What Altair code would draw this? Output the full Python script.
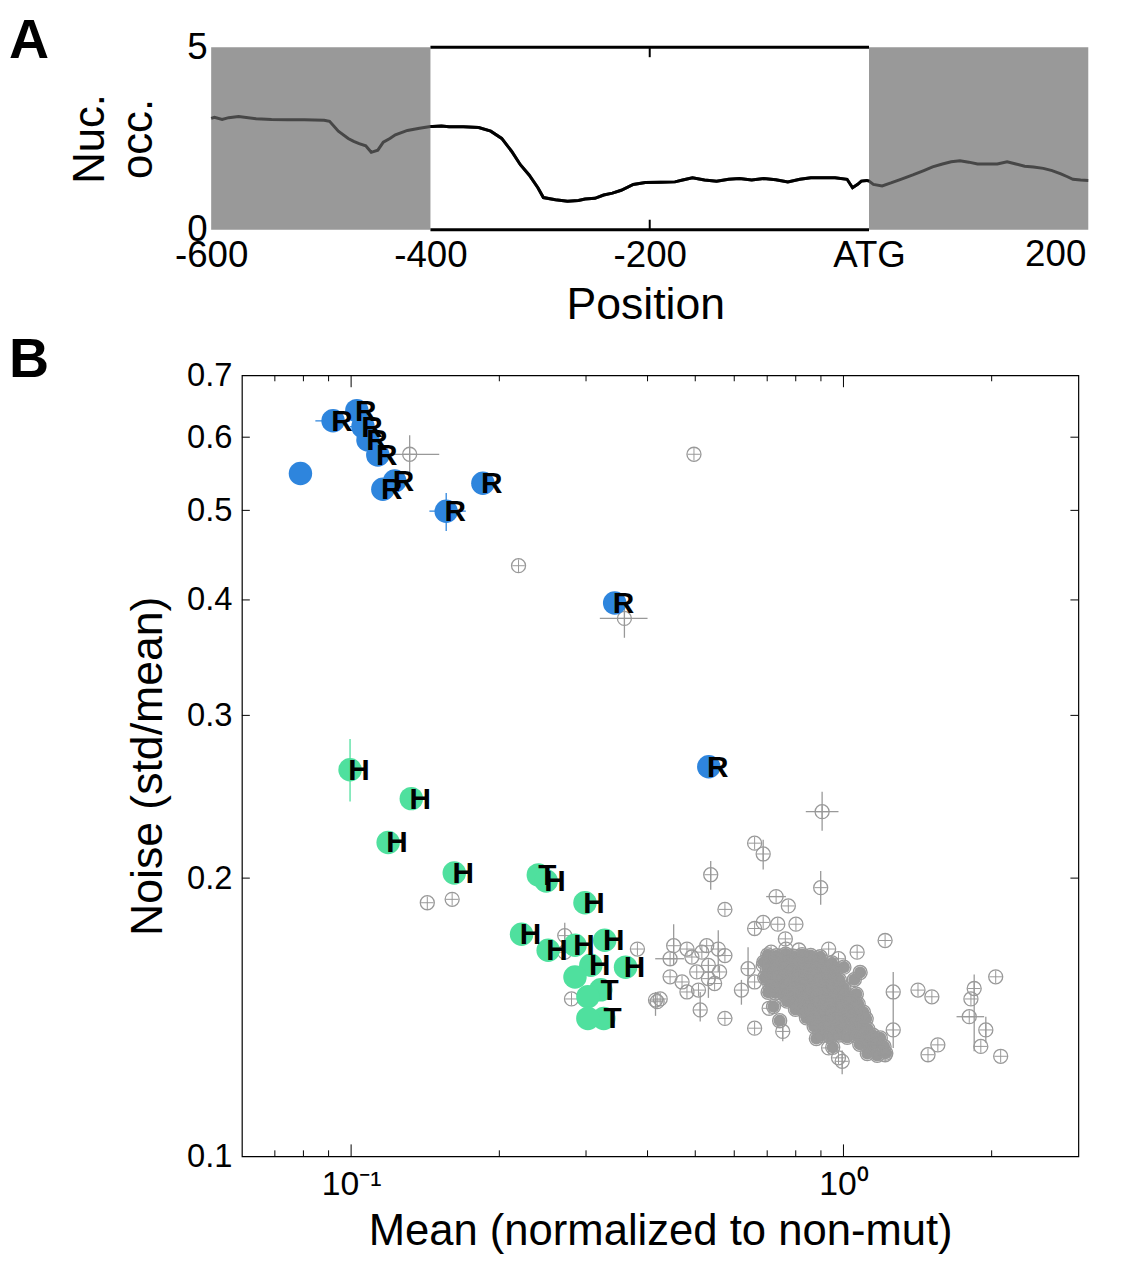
import altair as alt
import pandas as pd

FONT = "Liberation Sans"

# ---------------- Panel A data ----------------
posA = [-600, -597, -590, -584, -575, -559, -545, -530, -515, -497, -492, -484, -475, -470, -465,
        -459, -454, -448, -443, -437, -432, -421, -410, -400, -398, -390, -383, -370, -356, -345,
        -335, -326, -318, -310, -302, -297, -286, -275, -265, -259, -250, -242, -234, -226, -215,
        -204, -190, -177, -170, -161, -150, -139, -128, -118, -107, -96, -85, -74, -63, -53, -42,
        -31, -20, -15, -10, -7, -2, 0, 4, 12, 20, 29, 40, 50, 58, 67, 75, 83, 91, 99, 108, 117,
        126, 134, 142, 150, 159, 167, 175, 181, 186, 193, 200]
occA = [3.05, 3.08, 3.02, 3.07, 3.10, 3.04, 3.02, 3.01, 3.01, 3.00, 2.97, 2.70, 2.50, 2.42, 2.36,
        2.30, 2.12, 2.18, 2.40, 2.50, 2.60, 2.72, 2.78, 2.83, 2.83, 2.84, 2.82, 2.82, 2.80, 2.70,
        2.50, 2.15, 1.78, 1.50, 1.15, 0.88, 0.82, 0.78, 0.80, 0.84, 0.86, 0.95, 1.00, 1.08, 1.24,
        1.29, 1.30, 1.31, 1.36, 1.42, 1.36, 1.33, 1.38, 1.40, 1.36, 1.40, 1.37, 1.31, 1.38, 1.42, 1.42,
        1.42, 1.38, 1.15, 1.25, 1.33, 1.35, 1.33, 1.24, 1.20, 1.28, 1.38, 1.50, 1.62, 1.72, 1.80, 1.86,
        1.89, 1.85, 1.80, 1.80, 1.80, 1.86, 1.80, 1.74, 1.72, 1.68, 1.62, 1.53, 1.45, 1.38, 1.36, 1.35]
shade_start = [-600, 0]
shade_end = [-400, 200]
a_xticks = [-600, -400, -200, 0, 200]
a_yticks = [0, 5]

# ---------------- Panel B data ----------------
blue_x = [0.0789, 0.0919, 0.1027, 0.1057, 0.1082, 0.1133, 0.116, 0.1226, 0.156, 0.1852, 0.343, 0.5326]
blue_y = [0.548, 0.625, 0.641, 0.616, 0.596, 0.574, 0.527, 0.538, 0.499, 0.535, 0.397, 0.264]
blue_lab = ["", "R", "R", "R", "R", "R", "R", "R", "R", "R", "R", "R"]

green_x = [0.0995, 0.1325, 0.1189, 0.162, 0.240, 0.249, 0.2985, 0.2219, 0.2513, 0.2849, 0.3274,
           0.3068, 0.3609, 0.2849, 0.3214, 0.3026, 0.3259, 0.3026]
green_y = [0.262, 0.2438, 0.2186, 0.2026, 0.2016, 0.1986, 0.1881, 0.1739, 0.1671, 0.1692, 0.1713,
           0.161, 0.1602, 0.1563, 0.1514, 0.1488, 0.141, 0.141]
green_lab = ["H", "H", "H", "H", "T", "H", "H", "H", "H", "H", "H", "H", "H", "", "T", "", "T", ""]

# colored error bars
col_vx = [0.156, 0.0995]
col_vlo = [0.475, 0.242]
col_vhi = [0.522, 0.2828]
col_vcolor = ["#2e85dd", "#4fe09e"]
col_hy = [0.625, 0.616, 0.499]
col_hlo = [0.0846, 0.0995, 0.1442]
col_hhi = [0.0995, 0.1057, 0.171]

# scattered gray points
out_x = [0.1315, 0.497, 0.2188, 0.359, 0.1428, 0.1604, 0.905, 0.660, 0.687, 0.5375, 0.899, 0.7298,
         0.7727, 0.5744, 0.660, 0.687, 0.7355, 0.8007, 0.762, 0.452, 0.481, 0.5275, 0.5568, 0.5744,
         0.4445, 0.4922, 0.5317, 0.4445, 0.5035, 0.5317, 0.5602, 0.5474, 0.5076, 0.6401, 0.6205, 0.660,
         0.4152, 0.4244, 0.5117, 0.5744, 0.660, 0.7528, 0.687, 0.7129, 0.764, 0.8118, 0.933, 0.977,
         0.7064, 0.933, 0.977, 1.215, 1.066, 1.262, 1.262, 1.417, 1.512, 1.843, 1.815, 2.038, 1.801,
         1.946, 1.901, 2.086, 1.485, 1.555, 0.994, 1.215, 1.16, 0.2716, 0.3815, 0.4184, 0.2803, 0.2716,
         0.47, 0.5157, 0.481]
out_y = [0.575, 0.575, 0.4356, 0.382, 0.1881, 0.1897, 0.236, 0.2182, 0.2124, 0.2017, 0.1953, 0.191,
         0.1866, 0.185, 0.1764, 0.1791, 0.1783, 0.1783, 0.1719, 0.169, 0.1676, 0.169, 0.1676, 0.1649,
         0.1636, 0.1643, 0.1609, 0.1564, 0.1583, 0.1557, 0.1583, 0.1538, 0.1513, 0.1596, 0.1513, 0.1544,
         0.1476, 0.148, 0.144, 0.141, 0.1376, 0.1365, 0.1609, 0.1663, 0.1676, 0.1672, 0.1676, 0.1636,
         0.1446, 0.131, 0.1278, 0.1712, 0.1663, 0.1506, 0.137, 0.1513, 0.1488, 0.1519, 0.148, 0.1564,
         0.1416, 0.137, 0.1315, 0.1283, 0.1288, 0.132, 0.1267, 0.1288, 0.132, 0.1733, 0.1676, 0.147,
         0.148, 0.1663, 0.1544, 0.1663, 0.1506]

# dense gray cluster near 1
clu_x = [0.702, 0.731, 0.763, 0.792, 0.824, 0.858, 0.897,
         0.689, 0.719, 0.748, 0.781, 0.808, 0.842, 0.871, 0.909, 0.948,
         0.701, 0.729, 0.762, 0.789, 0.821, 0.852, 0.879, 0.918, 0.962,
         0.692, 0.718, 0.752, 0.778, 0.812, 0.839, 0.871, 0.902, 0.938, 0.981,
         0.709, 0.741, 0.768, 0.801, 0.828, 0.862, 0.889, 0.923, 0.958, 1.002,
         0.728, 0.759, 0.788, 0.821, 0.849, 0.882, 0.909, 0.941, 0.979, 1.021, 1.062,
         0.768, 0.802, 0.829, 0.861, 0.889, 0.922, 0.951, 0.988, 1.029, 1.071,
         0.799, 0.832, 0.858, 0.891, 0.919, 0.952, 0.979, 1.018, 1.061, 1.098,
         0.841, 0.868, 0.902, 0.929, 0.961, 0.988, 1.031, 1.068, 1.112,
         0.872, 0.899, 0.931, 0.962, 0.998, 1.042, 1.081, 1.121,
         0.903, 0.942, 0.979, 1.018, 1.059, 1.102, 1.148, 1.188,
         1.079, 1.128, 1.168, 1.209,
         1.118, 1.171, 1.219,
         0.721, 0.742, 0.703, 1.002, 1.052, 1.081, 0.951, 0.881]
clu_y = [0.1652, 0.1648, 0.1655, 0.1646, 0.1653, 0.1649, 0.1644,
         0.1622, 0.1618, 0.1625, 0.1617, 0.1621, 0.1615, 0.1623, 0.1614, 0.1619,
         0.1591, 0.1587, 0.1594, 0.1585, 0.1592, 0.1586, 0.1593, 0.1584, 0.1589,
         0.1561, 0.1556, 0.1563, 0.1555, 0.1562, 0.1554, 0.1561, 0.1553, 0.1559, 0.1552,
         0.1532, 0.1526, 0.1533, 0.1525, 0.1531, 0.1524, 0.1532, 0.1523, 0.1529, 0.1522,
         0.1502, 0.1496, 0.1503, 0.1495, 0.1501, 0.1494, 0.1502, 0.1493, 0.1499, 0.1492, 0.1498,
         0.1472, 0.1466, 0.1473, 0.1465, 0.1471, 0.1464, 0.1472, 0.1463, 0.1469, 0.1462,
         0.1442, 0.1436, 0.1443, 0.1435, 0.1441, 0.1434, 0.1442, 0.1433, 0.1439, 0.1432,
         0.1412, 0.1406, 0.1413, 0.1405, 0.1411, 0.1404, 0.1412, 0.1403, 0.1409,
         0.1382, 0.1376, 0.1383, 0.1375, 0.1381, 0.1374, 0.1382, 0.1373,
         0.1352, 0.1346, 0.1353, 0.1345, 0.1351, 0.1344, 0.1352, 0.1343,
         0.1322, 0.1316, 0.1323, 0.1315,
         0.1292, 0.1286, 0.1293,
         0.1452, 0.1402, 0.1505, 0.1602, 0.1553, 0.1581, 0.1312, 0.1341]

# gray error bars
gv_x = [0.1315, 0.359, 0.905, 0.687, 0.5375, 0.899, 0.452, 0.5568, 0.5317, 0.6401, 0.6205, 0.5117,
        0.4152, 0.7528, 0.2716, 1.262, 1.843, 1.946, 0.994]
gv_lo = [0.548, 0.364, 0.225, 0.2043, 0.1943, 0.1872, 0.161, 0.1583, 0.1484, 0.1518, 0.1459, 0.1399,
         0.1419, 0.1332, 0.1663, 0.131, 0.1299, 0.1327, 0.1227]
gv_hi = [0.603, 0.395, 0.248, 0.22, 0.2087, 0.2036, 0.1783, 0.1756, 0.163, 0.1683, 0.1552, 0.1506,
         0.1506, 0.1399, 0.1789, 0.1583, 0.1573, 0.1416, 0.1302]
gh_y = [0.575, 0.382, 0.236, 0.191, 0.1636, 0.1416]
gh_lo = [0.1144, 0.320, 0.8385, 0.6966, 0.4146, 1.697]
gh_hi = [0.151, 0.400, 0.977, 0.764, 0.4743, 1.931]

b_yticks = [0.1, 0.2, 0.3, 0.4, 0.5, 0.6, 0.7]
b_inner_yticks = [0.2, 0.3, 0.4, 0.5, 0.6]
b_major_x = [0.1, 1]
b_minor_x = [0.07, 0.08, 0.09, 0.2, 0.3, 0.4, 0.5, 0.6, 0.7, 0.8, 0.9, 2]

BLUE = "#2e85dd"
GREEN = "#4fe09e"
GRAY = "#999999"

# ---------------- Panel A ----------------
SHIFT = 31           # panel A plot starts this far left of panel B
WA, HA = 885 - SHIFT, 184
xA = alt.Scale(domain=[-600, 200], nice=False, zero=False, range=[-SHIFT, WA])
yA = alt.Scale(domain=[0, 5], nice=False)
axAx = alt.Axis(values=a_xticks,
                labelExpr="datum.value == 0 ? 'ATG' : (datum.value == 200 ? '' : toString(datum.value))",
                ticks=False, domain=False, grid=False, labelFontSize=37, labelPadding=8, labelFlush=False,
                title="Position", titleFontSize=45, titleFontWeight="normal", titlePadding=10,
                titleX=407, titleAnchor="middle")
axAy = alt.Axis(values=a_yticks, ticks=False, domain=False, grid=False, labelFontSize=37,
                labelPadding=4, offset=SHIFT, title=["Nuc.", "occ."], titleFontSize=44,
                titleFontWeight="normal", titlePadding=27, titleLineHeight=48)

dfA = pd.DataFrame({"pos": posA, "occ": occA})
dfA_mid = dfA[(dfA["pos"] >= -400) & (dfA["pos"] <= 0)]


def XA(f):
    return alt.X(f, type="quantitative", scale=xA, axis=axAx)


def YA(f):
    return alt.Y(f, type="quantitative", scale=yA, axis=axAy)


shade = alt.Chart(pd.DataFrame({"s": shade_start, "e": shade_end})).mark_rect(color=GRAY).encode(
    x=XA("s"), x2="e", y=alt.value(0), y2=alt.value(HA))
line_all = alt.Chart(dfA).mark_line(color="#474747", strokeWidth=3).encode(x=XA("pos"), y=YA("occ"))
line_mid = alt.Chart(dfA_mid).mark_line(color="black", strokeWidth=3).encode(x=XA("pos"), y=YA("occ"))
frame_df = pd.DataFrame({"s": [-400], "e": [0]})
frame_top = alt.Chart(frame_df).mark_rule(color="black", strokeWidth=3).encode(
    x=XA("s"), x2="e", y=alt.value(0))
frame_bot = alt.Chart(frame_df).mark_rule(color="black", strokeWidth=3).encode(
    x=XA("s"), x2="e", y=alt.value(HA))
tick_df = pd.DataFrame({"p": [-200]})
tick_top = alt.Chart(tick_df).mark_rule(color="black", strokeWidth=2).encode(
    x=XA("p"), y=alt.value(0), y2=alt.value(10))
tick_bot = alt.Chart(tick_df).mark_rule(color="black", strokeWidth=2).encode(
    x=XA("p"), y=alt.value(HA - 10), y2=alt.value(HA))
last_lab = alt.Chart(pd.DataFrame({"t": ["200"]})).mark_text(
    font=FONT, fontSize=37, align="right", baseline="top", color="black").encode(
    text="t:N", x=alt.value(WA - 2), y=alt.value(HA + 8))
labA = alt.Chart(pd.DataFrame({"t": ["A"]})).mark_text(
    font=FONT, fontSize=56, fontWeight="bold", align="left", baseline="alphabetic", color="black").encode(
    text="t:N", x=alt.value(-235), y=alt.value(11))

panelA = alt.layer(shade, line_all, line_mid, frame_top, frame_bot, tick_top, tick_bot, last_lab,
                   labA).properties(width=WA, height=HA)

# ---------------- Panel B ----------------
WB, HB = 844, 788
xB = alt.Scale(type="log", domain=[0.06, 3], nice=False)
yB = alt.Scale(type="log", domain=[0.1, 0.7], nice=False)
axBx = alt.Axis(values=b_major_x, labelExpr="datum.value < 0.5 ? '10\u207b\u00b9' : '10\u2070'",
                ticks=False, domain=False, grid=False, labelFontSize=34, labelPadding=12,
                title="Mean (normalized to non-mut)", titleFontSize=44, titleFontWeight="normal",
                titlePadding=8)
axBy = alt.Axis(values=b_yticks, format=".1f", ticks=False, domain=False, grid=False,
                labelFontSize=33, labelPadding=10, title="Noise (std/mean)", titleFontSize=45,
                titleFontWeight="normal", titlePadding=16)


def XB(f):
    return alt.X(f, type="quantitative", scale=xB, axis=axBx)


def YB(f):
    return alt.Y(f, type="quantitative", scale=yB, axis=axBy)


out_df = pd.DataFrame({"x": out_x, "y": out_y})
clu_df = pd.DataFrame({"x": clu_x, "y": clu_y})
gv_df = pd.DataFrame({"x": gv_x, "lo": gv_lo, "hi": gv_hi})
gh_df = pd.DataFrame({"y": gh_y, "lo": gh_lo, "hi": gh_hi})
blue_df = pd.DataFrame({"x": blue_x, "y": blue_y, "lab": blue_lab})
green_df = pd.DataFrame({"x": green_x, "y": green_y, "lab": green_lab})
cv_df = pd.DataFrame({"x": col_vx, "lo": col_vlo, "hi": col_vhi, "c": col_vcolor})
ch_df = pd.DataFrame({"y": col_hy, "lo": col_hlo, "hi": col_hhi})

CROSS = "M-1,0L1,0M0,-1L0,1"
g_vbar = alt.Chart(gv_df).mark_rule(color=GRAY, strokeWidth=1.3).encode(x=XB("x"), y=YB("lo"), y2="hi")
g_hbar = alt.Chart(gh_df).mark_rule(color=GRAY, strokeWidth=1.3).encode(y=YB("y"), x=XB("lo"), x2="hi")
o_circ = alt.Chart(out_df).mark_point(shape="circle", filled=False, size=200, color=GRAY,
                                       strokeWidth=1.3, opacity=1).encode(x=XB("x"), y=YB("y"))
o_cross = alt.Chart(out_df).mark_point(shape=CROSS, filled=False, size=160, color=GRAY,
                                        strokeWidth=1, opacity=1).encode(x=XB("x"), y=YB("y"))
c_fill = alt.Chart(clu_df).mark_circle(size=150, color=GRAY, opacity=1).encode(x=XB("x"), y=YB("y"))
c_circ = alt.Chart(clu_df).mark_point(shape="circle", filled=False, size=200, color=GRAY,
                                       strokeWidth=1.4, opacity=1).encode(x=XB("x"), y=YB("y"))
c_vbar = alt.Chart(cv_df).mark_rule(strokeWidth=1.3).encode(
    x=XB("x"), y=YB("lo"), y2="hi", color=alt.Color("c:N", scale=None))
c_hbar = alt.Chart(ch_df).mark_rule(color=BLUE, strokeWidth=1.3).encode(y=YB("y"), x=XB("lo"), x2="hi")
b_circ = alt.Chart(blue_df).mark_circle(size=560, color=BLUE, opacity=1).encode(x=XB("x"), y=YB("y"))
gr_circ = alt.Chart(green_df).mark_circle(size=560, color=GREEN, opacity=1).encode(x=XB("x"), y=YB("y"))
text_style = dict(font=FONT, fontSize=30, fontWeight="bold", color="black", dx=9, dy=1,
                  align="center", baseline="middle")
b_text = alt.Chart(blue_df).mark_text(**text_style).encode(x=XB("x"), y=YB("y"), text="lab:N")
gr_text = alt.Chart(green_df).mark_text(**text_style).encode(x=XB("x"), y=YB("y"), text="lab:N")

# inward ticks (Matlab style box)
yt_df = pd.DataFrame({"v": b_inner_yticks})
ytl = alt.Chart(yt_df).mark_rule(color="black", strokeWidth=1).encode(y=YB("v"), x=alt.value(0), x2=alt.value(8))
ytr = alt.Chart(yt_df).mark_rule(color="black", strokeWidth=1).encode(y=YB("v"), x=alt.value(WB - 8), x2=alt.value(WB))
xmaj_df = pd.DataFrame({"v": b_major_x})
xmin_df = pd.DataFrame({"v": b_minor_x})
xtb1 = alt.Chart(xmaj_df).mark_rule(color="black", strokeWidth=1).encode(x=XB("v"), y=alt.value(HB - 12), y2=alt.value(HB))
xtt1 = alt.Chart(xmaj_df).mark_rule(color="black", strokeWidth=1).encode(x=XB("v"), y=alt.value(0), y2=alt.value(12))
xtb2 = alt.Chart(xmin_df).mark_rule(color="black", strokeWidth=1).encode(x=XB("v"), y=alt.value(HB - 6), y2=alt.value(HB))
xtt2 = alt.Chart(xmin_df).mark_rule(color="black", strokeWidth=1).encode(x=XB("v"), y=alt.value(0), y2=alt.value(6))

labB = alt.Chart(pd.DataFrame({"t": ["B"]})).mark_text(
    font=FONT, fontSize=56, fontWeight="bold", align="left", baseline="alphabetic", color="black").encode(
    text="t:N", x=alt.value(-235), y=alt.value(2))

panelB = alt.layer(g_vbar, g_hbar, c_fill, c_circ, o_circ, o_cross, c_vbar, c_hbar, b_circ, gr_circ,
                   b_text, gr_text, ytl, ytr, xtb1, xtt1, xtb2, xtt2, labB).properties(
    width=WB, height=HB, view=alt.ViewBackground(stroke="black", strokeWidth=1.2))

chart = alt.vconcat(panelA, panelB, spacing=4).properties(padding=0).configure_view(
    stroke=None).configure_axis(labelFont=FONT, titleFont=FONT, labelColor="black", titleColor="black")

chart.save("out.html", embed_options={"renderer": "svg", "actions": False})
